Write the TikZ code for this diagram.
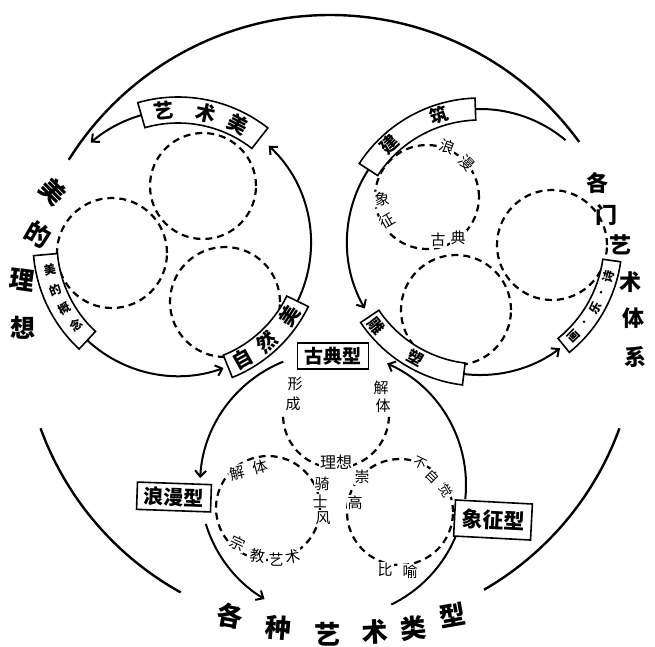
\documentclass[tikz,border=0pt]{standalone}
\usepackage{fontspec}
\newfontfamily\cjk{Noto Sans CJK SC}
\usetikzlibrary{calc,arrows.meta}

\begin{document}
\begin{tikzpicture}[x=1pt,y=1pt,
  ring/.style={line width=2.4pt},
  loop/.style={line width=2pt},
  dashring/.style={line width=2.2pt,dash pattern=on 7pt off 5pt},
  arr/.style={loop,-{Straight Barb[length=6pt,width=11pt]}},
  band/.style={line width=1.6pt,fill=white},
  tbox/.style={draw,line width=1.6pt,fill=white,inner xsep=7pt,inner ysep=4pt,font=\cjk\bfseries\fontsize{19}{20}\selectfont},
  ch/.style={inner sep=0pt,font=\cjk\bfseries\fontsize{#1}{#1}\selectfont},
  ch/.default=18,
  lab/.style={fill=white,inner sep=1pt,font=\cjk\fontsize{#1}{#1}\selectfont},
  lab/.default=15]
\useasboundingbox (0,0) rectangle (655,-646);

\coordinate (O) at (330,-323);
\coordinate (L) at (178,-243);
\coordinate (R) at (480,-242);
\coordinate (B) at (333,-485);

% big circle, open where the three titles stand
\draw[ring] ($(O)+(36:308)$) arc[start angle=36,end angle=148,radius=308];
\draw[ring] ($(O)+(200:308)$) arc[start angle=200,end angle=241,radius=308];
\draw[ring] ($(O)+(300:308)$) arc[start angle=300,end angle=340,radius=308];

% dashed circles
\foreach \p/\r in {{203,-186}/53,{112,-253}/55,{225,-302}/55,
                   {427,-197}/52,{552,-245}/55,{456,-310}/55,
                   {268,-508}/52,{400,-512}/53}
  \draw[dashring] (\p) circle[radius=\r];
\draw[dashring] ($(336,-415)+(182:53)$) arc[start angle=182,end angle=358,radius=53];

% left ring
\draw[arr] ($(L)+(106:133)$) arc[start angle=106,end angle=131,radius=133];
\draw[arr] ($(L)+(227:133)$) arc[start angle=227,end angle=290,radius=133];
\draw[arr] ($(L)+(334:133)$) arc[start angle=334,end angle=407,radius=133];

% right ring
\draw[loop] ($(R)+(92:133)$) arc[start angle=92,end angle=50,radius=133];
\draw[arr] ($(R)+(147:133)$) arc[start angle=147,end angle=210,radius=133];
\draw[arr] ($(R)+(263:133)$) arc[start angle=263,end angle=307,radius=133];

% lower ring
\draw[arr] ($(B)+(112:133)$) arc[start angle=112,end angle=177,radius=133];
\draw[arr] ($(B)+(197:133)$) arc[start angle=197,end angle=239,radius=133];
\draw[loop] ($(B)+(296:133)$) arc[start angle=296,end angle=337,radius=133];
\draw[arr] ($(B)+(354:133)$) arc[start angle=354,end angle=426,radius=133];

% curved boxes on the rings
\foreach \c/\a/\b/\h [evaluate=\h as \ri using 133-\h,evaluate=\h as \ro using 133+\h]
    in {L/52/106/13,L/185/227/12,L/292/334/12,R/92/147/11,R/214/263/11,R/309/352/9}
  \draw[band] ($(\c)+(\a:\ri)$) arc[start angle=\a,end angle=\b,radius=\ri]
    -- ($(\c)+(\b:\ro)$) arc[start angle=\b,end angle=\a,radius=\ro] -- cycle;

\foreach \a/\t [count=\i] in {96/艺,78/术,63/美}
  \node[ch=20,rotate=\a-90] (ysm\i) at ($(L)+(\a:133)$) {\t};
\foreach \a/\t [count=\i] in {192/美,201/的,210/概,219/念}
  \node[ch=12,rotate=\a-180] (mdgn\i) at ($(L)+(\a:131)$) {\t};
\foreach \a/\t [count=\i] in {299/自,312/然,327/美}
  \node[ch=20,rotate=\a-270] (zrm\i) at ($(L)+(\a:133)$) {\t};
\foreach \a/\t [count=\i] in {133/建,108/筑}
  \node[ch=18,rotate=\a-90] (jz\i) at ($(R)+(\a:133)$) {\t};
\foreach \a/\t [count=\i] in {219/雕,241/塑}
  \node[ch=16,rotate=\a-270] (ds\i) at ($(R)+(\a:133)$) {\t};
\foreach \a/\t [count=\i] in {315/画,330/乐,345/诗}
  \node[ch=12,rotate=\a-270] (hys\i) at ($(R)+(\a:133)$) {\t};
\foreach \a [count=\i] in {322.5,337.5}
  \fill ($(R)+(\a:131)$) circle[radius=1.4];

% boxes of the lower ring
\node[tbox] (gudian) at (333,-356) {古典型};
\node[tbox,rotate=-2,font=\cjk\bfseries\fontsize{20}{21}\selectfont] (langman) at (174,-497) {浪漫型};
\node[tbox,rotate=-3,font=\cjk\bfseries\fontsize{21}{22}\selectfont,inner ysep=8pt] (xiangzheng) at (493,-520) {象征型};

% words on the dashed circles
\foreach \x/\y/\r/\t [count=\i] in {447/147/-20/浪,467/163/-45/漫,382/199/5/象,387/221/30/征,438/240/0/古,458/238/0/典}
  \node[lab=15,rotate=\r] (rw\i) at (\x,-\y) {\t};
\foreach \x/\y/\r/\t [count=\i] in {295/384/0/形,293/404/0/成,381/388/0/解,383/406/0/体}
  \node[lab=15,rotate=\r] (tw\i) at (\x,-\y) {\t};
\node[lab=16] (lixiang) at (336,-462) {理想};
\foreach \x/\y/\r/\t [count=\i] in {237/473/15/解,260/467/15/体,322/484/0/骑,320/501/0/士,323/518/0/风,362/477/0/崇,355/503/0/高}
  \node[lab=15,rotate=\r] (mw\i) at (\x,-\y) {\t};
\foreach \x/\y/\r/\t [count=\i] in {238/543/-25/宗,258/556/-8/教,276/560/0/艺,293/557/10/术,385/570/0/比,410/572/0/喻}
  \node[lab=15,rotate=\r] (bw\i) at (\x,-\y) {\t};
\foreach \x/\y/\r/\t [count=\i] in {420/463/-25/不,433/477/-45/自,446/491/-60/觉}
  \node[lab=13,rotate=\r] (bzj\i) at (\x,-\y) {\t};

% titles round the big circle
\foreach \x/\y/\r/\t [count=\i] in {53/192/-45/美,38/235/-30/的,22/280/-8/理,23/328/0/想}
  \node[ch=25,rotate=\r] (mdlx\i) at (\x,-\y) {\t};
\foreach \x/\y/\t [count=\i] in {597/183/各,606/215/门,620/245/艺,630/282/术,633/318/体,635/357/系}
  \node[ch=22] (gmys\i) at (\x,-\y) {\t};
\foreach \x/\y/\r/\t [count=\i] in {230/616/-10/各,278/628/-5/种,327/634/0/艺,375/632/3/术,413/628/6/类,453/615/10/型}
  \node[ch=26,rotate=\r] (gzys\i) at (\x,-\y) {\t};
\end{tikzpicture}
\end{document}
